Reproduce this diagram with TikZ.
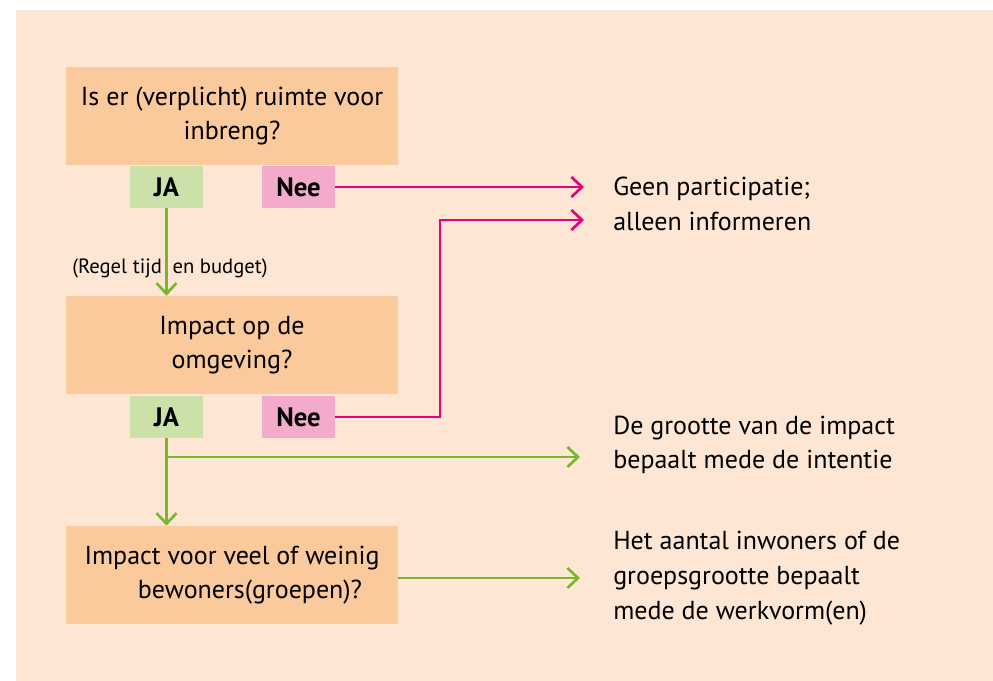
\documentclass[tikz,border=0pt]{standalone}
\usepackage{fontspec}
\setmainfont{PT Sans}
\usetikzlibrary{arrows.meta}

\definecolor{achtergrond}{HTML}{FEE6D4}
\definecolor{vraagkleur}{HTML}{FAC99C}
\definecolor{jakleur}{HTML}{CCE0AA}
\definecolor{neekleur}{HTML}{F3ABCC}
\definecolor{neelijn}{HTML}{E6007E}
\definecolor{jalijn}{HTML}{76B82A}

\tikzset{
  vraag/.style={rectangle,fill=vraagkleur,minimum width=249pt,minimum height=73.5pt,
    align=center,font=\fontsize{19.5}{26}\selectfont},
  ja/.style={rectangle,fill=jakleur,minimum width=54.75pt,minimum height=31.5pt,
    font=\fontsize{20}{22}\selectfont\bfseries},
  nee/.style={ja,fill=neekleur},
  uitkomst/.style={anchor=west,inner sep=0pt,align=left,font=\fontsize{19.5}{26}\selectfont},
  groenpijl/.style={draw=jalijn,line width=2pt,-{Straight Barb[length=8pt,width=15pt]}},
  roodpijl/.style={draw=neelijn,line width=2pt,-{Straight Barb[length=8pt,width=15pt]}}
}

\begin{document}
\begin{tikzpicture}[x=0.75pt,y=-0.75pt]
  \useasboundingbox (0,0) rectangle (993,681);
  \fill[achtergrond] (16,10) rectangle (993,681);

  \node[vraag] (vraag1) at (232,116) {Is er (verplicht) ruimte voor\\inbreng?};
  \node[ja] (ja1) at (166.5,187) {JA};
  \node[nee] (nee1) at (298.5,187) {Nee};

  \node[vraag] (vraag2) at (232,345) {Impact op de\\omgeving?};
  \node[ja] (ja2) at (166.5,417) {JA};
  \node[nee] (nee2) at (298.5,417) {Nee};

  \node[vraag] (vraag3) at (232,575) {Impact voor veel of weinig\\\hspace*{27pt}bewoners(groepen)?};

  \node[inner sep=0pt,font=\fontsize{15.5}{18}\selectfont] (regel) at (170,268) {(Regel tijd\hspace{8pt}en budget)};

  \node[uitkomst] (geen) at (613,204) {Geen participatie;\\alleen informeren};
  \node[uitkomst] (grootte) at (613,445) {De grootte van de impact\\bepaalt mede de intentie};
  \node[uitkomst] (aantal) at (613,578) {Het aantal inwoners of de\\groepsgrootte bepaalt\\mede de werkvorm(en)};

  % eindpunten van de pijlen
  \coordinate (geenA) at (584,187);
  \coordinate (geenB) at (584,220);
  \coordinate (knik) at (440,220);
  \coordinate (tak) at (166.5,457);
  \coordinate (grootteA) at (580,457);
  \coordinate (aantalA) at (580,578);

  \draw[groenpijl] (ja1.south) -- (ja1.south |- vraag2.north);
  \draw[roodpijl] (nee1.east) -- (geenA);
  \draw[roodpijl] (nee2.east) -| (knik) -- (geenB);
  \draw[groenpijl] (ja2.south) -- (ja2.south |- vraag3.north);
  \draw[groenpijl] (tak) -- (grootteA);
  \draw[groenpijl] (vraag3.east |- aantalA) -- (aantalA);
\end{tikzpicture}
\end{document}
